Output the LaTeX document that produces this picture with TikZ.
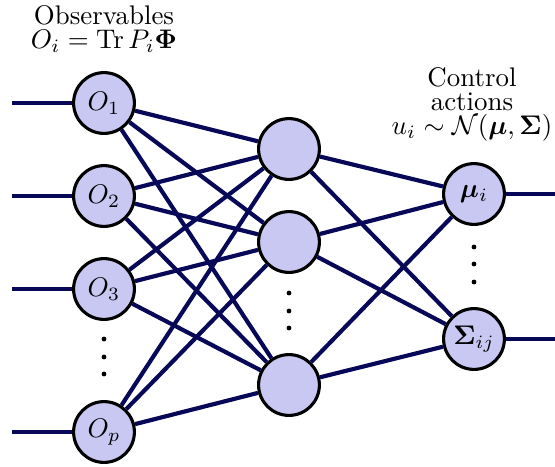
\documentclass[tikz,border=0pt]{standalone}
\usepackage{amsmath,amssymb,bm}
\definecolor{neuronfill}{RGB}{200,200,242}
\definecolor{linkcol}{RGB}{8,8,88}
\begin{document}
\begin{tikzpicture}[x=0.3717pt,y=-0.3717pt,
  neuron/.style={circle,draw=black,line width=1.15pt,fill=neuronfill,
                 minimum size=22.6pt,inner sep=0pt},
  link/.style={draw=linkcol,line width=1.55pt},
  header/.style={align=center,inner sep=0pt,anchor=north,
                 font=\fontsize{10}{9}\selectfont}]
\useasboundingbox (0,0) rectangle (555,467);

% loose ends of the input and output lines
\coordinate (in1) at (12,103);
\coordinate (in2) at (12,196);
\coordinate (in3) at (12,289);
\coordinate (inp) at (12,432);
\coordinate (out1) at (555,194);
\coordinate (out2) at (555,339);

% input layer
\node[neuron] (o1) at (104,103) {$O_1$};
\node[neuron] (o2) at (104,196) {$O_2$};
\node[neuron] (o3) at (104,289) {$O_3$};
\node[neuron] (op) at (104,432) {$O_p$};

% hidden layer
\node[neuron] (h1) at (289,149) {};
\node[neuron] (h2) at (289,242) {};
\node[neuron] (h3) at (289,385) {};

% output layer
\node[neuron] (mu) at (474,194) {$\boldsymbol{\mu}_i$};
\node[neuron] (sig) at (474,339) {$\boldsymbol{\Sigma}_{ij}$};

% fully connected links
\foreach \a in {o1,o2,o3,op}
  \foreach \b in {h1,h2,h3}
    \draw[link] (\a) -- (\b);
\foreach \a in {h1,h2,h3}
  \foreach \b in {mu,sig}
    \draw[link] (\a) -- (\b);

% input and output stubs
\draw[link] (in1) -- (o1);
\draw[link] (in2) -- (o2);
\draw[link] (in3) -- (o3);
\draw[link] (inp) -- (op);
\draw[link] (mu) -- (out1);
\draw[link] (sig) -- (out2);

% vertical ellipses
\foreach \x/\y in {104/339,104/357,104/374,
                   289/293,289/311,289/328,
                   474/247,474/264,474/282}
  \fill (\x,\y) circle (2.4);

% headers
\node[header] (obs) at (104,4.5) {Observables\\$O_i=\operatorname{Tr}P_i\boldsymbol{\Phi}$};
\node[header] (ctl) at (472,67) {Control\\actions\\$u_i\sim\mathcal{N}(\boldsymbol{\mu},\boldsymbol{\Sigma})$};
\end{tikzpicture}
\end{document}
